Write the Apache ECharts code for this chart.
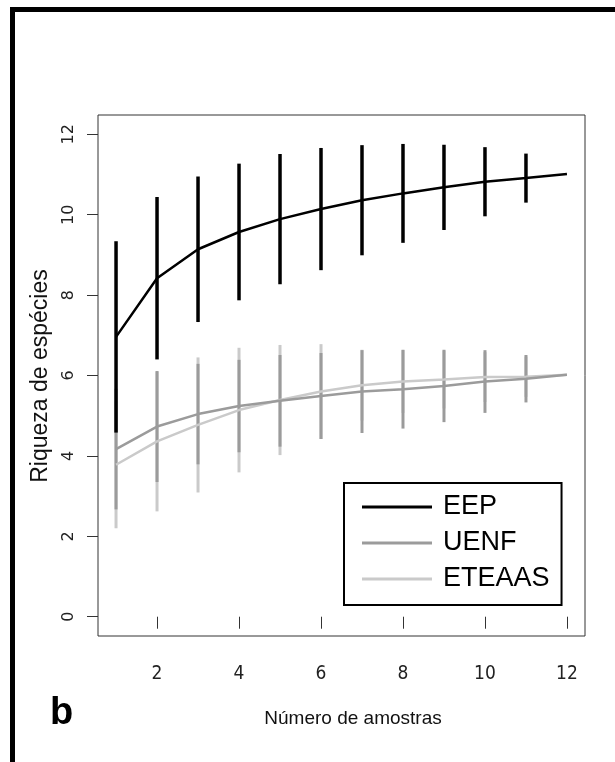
<!DOCTYPE html>
<html>
<head>
<meta charset="utf-8">
<script src="https://cdn.jsdelivr.net/npm/echarts@6/dist/echarts.min.js"></script>
<style>
  html, body { margin: 0; padding: 0; background: #fff; }
  #chart { width: 615px; height: 762px; }
</style>
</head>
<body>
<div id="chart"></div>
<script>
// Species accumulation: mean richness and standard deviation per number of samples
const samples = [1, 2, 3, 4, 5, 6, 7, 8, 9, 10, 11, 12];

const eepMean = [6.96, 8.42, 9.14, 9.57, 9.89, 10.14, 10.36, 10.53, 10.68, 10.82, 10.91, 11.01];
const eepSd   = [2.38, 2.02, 1.81, 1.70, 1.62, 1.52, 1.37, 1.23, 1.06, 0.86, 0.61, 0];

const uenfMean = [4.17, 4.73, 5.04, 5.24, 5.37, 5.49, 5.60, 5.66, 5.74, 5.85, 5.92, 6.02];
const uenfSd   = [1.50, 1.38, 1.25, 1.15, 1.14, 1.07, 1.03, 0.98, 0.90, 0.78, 0.59, 0];

const eteaasMean = [3.78, 4.36, 4.77, 5.14, 5.39, 5.60, 5.76, 5.85, 5.90, 5.96, 5.97, 6.02];
const eteaasSd   = [1.58, 1.74, 1.68, 1.55, 1.37, 1.18, 0.88, 0.78, 0.72, 0.62, 0.50, 0];

const groupNames = ['EEP', 'UENF', 'ETEAAS'];
const xTicks = [2, 4, 6, 8, 10, 12];
const yTicks = [0, 2, 4, 6, 8, 10, 12];

const xTitle = 'Número de amostras';
const yTitle = 'Riqueza de espécies';
const panelLetter = 'b';

const colors = { EEP: '#000000', UENF: '#9b9b9b', ETEAAS: '#cacaca' };

function meanLine(name, mean, z) {
  return {
    type: 'line',
    name: name,
    data: samples.map((x, i) => [x, mean[i]]),
    showSymbol: false,
    symbol: 'none',
    smooth: false,
    color: colors[name],
    lineStyle: { color: colors[name], width: 2.5 },
    z: z,
    silent: true
  };
}

function sdBars(name, mean, sd, width, z) {
  return {
    type: 'custom',
    name: name + ' sd',
    data: samples.map((x, i) => [x, mean[i] - sd[i], mean[i] + sd[i]]),
    encode: { x: 0, y: [1, 2] },
    renderItem: function (params, api) {
      const lo = api.coord([api.value(0), api.value(1)]);
      const hi = api.coord([api.value(0), api.value(2)]);
      return {
        type: 'line',
        shape: { x1: lo[0], y1: lo[1], x2: hi[0], y2: hi[1] },
        style: { stroke: colors[name], lineWidth: width, lineCap: 'butt' }
      };
    },
    z: z,
    silent: true
  };
}

const chart = echarts.init(document.getElementById('chart'), null, { renderer: 'canvas' });

chart.setOption({
  animation: false,
  backgroundColor: '#ffffff',
  grid: {
    left: 98, top: 115, width: 487, height: 521,
    show: true, borderColor: '#333333', borderWidth: 1, backgroundColor: 'transparent'
  },
  xAxis: {
    type: 'value',
    min: 0.56, max: 12.44,
    axisLine: { show: false },
    splitLine: { show: false },
    axisTick: { show: true, length: 12, customValues: xTicks, lineStyle: { color: '#333', width: 1 } },
    axisLabel: {
      customValues: xTicks, margin: 29,
      fontFamily: '"DejaVu Sans Condensed", "Liberation Sans Narrow", "Liberation Sans", sans-serif',
      fontSize: 19, color: '#222'
    }
  },
  yAxis: {
    type: 'value',
    min: -0.48, max: 12.48,
    axisLine: { show: false },
    splitLine: { show: false },
    axisTick: { show: true, length: 11, customValues: yTicks, lineStyle: { color: '#333', width: 1 } },
    axisLabel: {
      customValues: yTicks, rotate: 90, margin: 21,
      fontFamily: '"DejaVu Sans", sans-serif', fontSize: 16, color: '#222'
    }
  },
  legend: {
    data: groupNames,
    orient: 'vertical',
    left: 344, top: 483,
    padding: [9, 12, 11, 18],
    itemGap: 6,
    itemWidth: 70, itemHeight: 3,
    icon: 'rect',
    selectedMode: false,
    backgroundColor: '#ffffff',
    borderColor: '#000000', borderWidth: 2,
    textStyle: {
      fontFamily: '"Liberation Sans", Arial, sans-serif',
      fontSize: 27, color: '#000', lineHeight: 30, padding: [0, 0, 0, 6]
    }
  },
  graphic: [
    { type: 'rect', left: 10, top: 7, shape: { width: 5, height: 755 }, style: { fill: '#000' } },
    { type: 'rect', left: 10, top: 7, shape: { width: 605, height: 5 }, style: { fill: '#000' } },
    {
      type: 'text', x: 41, y: 376, rotation: Math.PI / 2,
      style: {
        text: yTitle, fill: '#111', textAlign: 'center', textVerticalAlign: 'middle',
        font: '23px "Liberation Sans", Arial, sans-serif'
      }
    },
    {
      type: 'text', x: 353, y: 719,
      style: {
        text: xTitle, fill: '#111', textAlign: 'center', textVerticalAlign: 'middle',
        font: '19px "Liberation Sans", Arial, sans-serif'
      }
    },
    {
      type: 'text', x: 50, y: 733,
      style: {
        text: panelLetter, fill: '#000', textAlign: 'left', textVerticalAlign: 'bottom',
        font: 'bold 38px "Liberation Sans", Arial, sans-serif'
      }
    }
  ],
  series: [
    sdBars('ETEAAS', eteaasMean, eteaasSd, 3, 1),
    sdBars('UENF', uenfMean, uenfSd, 3, 2),
    sdBars('EEP', eepMean, eepSd, 3.5, 3),
    meanLine('ETEAAS', eteaasMean, 4),
    meanLine('UENF', uenfMean, 5),
    meanLine('EEP', eepMean, 6)
  ]
});
</script>
</body>
</html>
